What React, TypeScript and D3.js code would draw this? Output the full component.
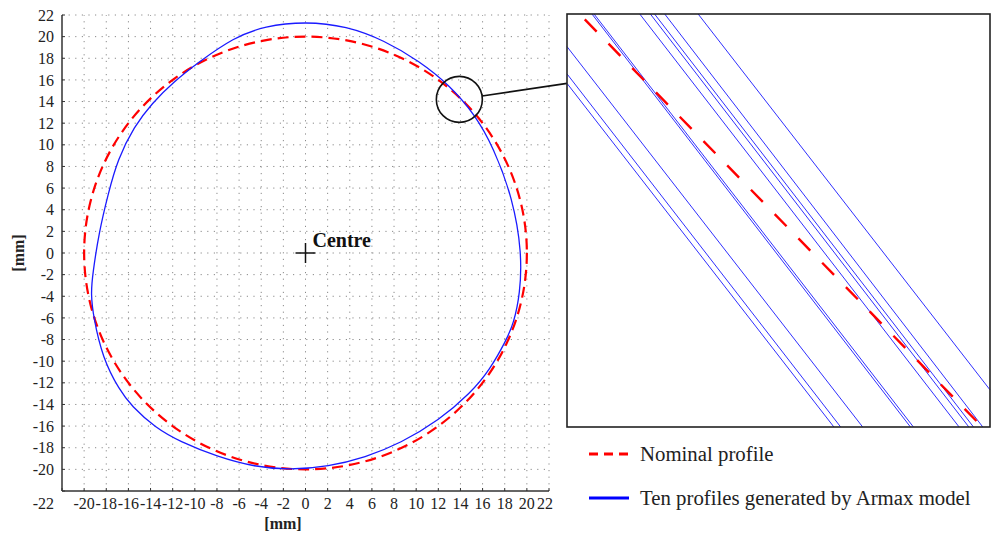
import * as d3 from 'd3';

// ticks on both axes, every 2 mm
const ticks = d3.range(-22, 23, 2);

// blue profile in polar form round the centre:
// angle in degrees (anticlockwise from +x), radius in mm
const profileAngles = [
  0, 15, 30, 40, 50, 60, 70, 80, 90, 100, 108, 119, 127, 135, 143, 153, 163, 174,
  186, 191, 197, 208, 217, 222, 230, 237, 247, 257, 266, 276, 286, 296, 308, 319,
  327, 336, 341, 349,
];
const profileRadii = [
  19.55, 19.4, 19.6, 19.95, 20.25, 20.5, 20.9, 21.3, 21.4, 21.3, 20.95, 20.1, 19.8, 19.6, 19.4, 19.05, 18.65, 18.75,
  19.35, 19.75, 20.05, 20.75, 21.05, 21.15, 21.1, 20.8, 20.45, 20.3, 20.1, 19.85, 19.65, 19.57, 19.62, 19.75,
  19.85, 19.85, 19.9, 19.75,
];

const nominalRadius = 20;
const zoomCentre: [number, number] = [13.9, 14.2];

// zoomed window: segments [u0, v0, u1, v1] in 0..1 box units
const zoomedProfiles = [
  [0.059, 0, 0.812, 1],
  [0.064, 0, 0.819, 1],
  [0.172, 0, 0.927, 1],
  [0.197, 0, 0.95, 1],
  [0.207, 0, 0.961, 1],
  [0.231, 0, 0.983, 1],
  [0.31, 0, 1, 0.91],
  [0, 0.079, 0.699, 1],
  [0, 0.145, 0.647, 1],
  [0, 0.168, 0.631, 1],
];
const zoomedNominal = [0.042, 0.013, 0.98, 0.998];

const legendLabels = ['Nominal profile', 'Ten profiles generated by Armax model'];

const serif = '"Liberation Serif", "Times New Roman", serif';

export default function App() {
  const width = 993;
  const height = 534;

  const x = d3.scaleLinear().domain([-22, 22]).range([62, 549]);
  const y = d3.scaleLinear().domain([-22, 22]).range([491, 15]);

  const ix = d3.scaleLinear().domain([0, 1]).range([567, 990]);
  const iy = d3.scaleLinear().domain([0, 1]).range([14, 427]);

  const profile = profileAngles.map((a, i) => ({ a, r: profileRadii[i] }));
  // radial line in mm, scaled to pixels by the group transform below
  const profileLine = d3.lineRadial<{ a: number; r: number }>()
    .angle(d => ((90 - d.a) * Math.PI) / 180)
    .radius(d => d.r)
    .curve(d3.curveBasisClosed);
  const kx = x(1) - x(0);
  const ky = y(0) - y(1);

  const cx = x(zoomCentre[0]);
  const cy = y(zoomCentre[1]);
  const r = 23;
  const endX = ix(0);
  const endY = iy(0.168);
  const len = Math.hypot(endX - cx, endY - cy);
  const startX = cx + (r * (endX - cx)) / len;
  const startY = cy + (r * (endY - cy)) / len;

  return (
    <svg width={width} height={height} style={{ position: 'absolute', left: 0, top: 0 }}>
      <rect width={width} height={height} fill="#fff" />

      {/* dotted grid */}
      <g stroke="#8a8a8a" strokeWidth={1} strokeDasharray="1.2,5.4">
        {ticks.filter(t => t > -22).map(t => (
          <line key={'gx' + t} x1={x(t)} x2={x(t)} y1={y(-22)} y2={y(22)} />
        ))}
        {ticks.filter(t => t > -22).map(t => (
          <line key={'gy' + t} x1={x(-22)} x2={x(22)} y1={y(t)} y2={y(t)} />
        ))}
      </g>

      {/* axes */}
      <g stroke="#333" strokeWidth={1.5}>
        <line x1={x(-22)} x2={x(-22)} y1={y(22)} y2={y(-22)} />
        <line x1={x(-22)} x2={x(22)} y1={y(-22)} y2={y(-22)} />
        {ticks.map(t => (
          <line key={'ty' + t} x1={x(-22)} x2={x(-22) + 3} y1={y(t)} y2={y(t)} strokeWidth={1} />
        ))}
        {ticks.map(t => (
          <line key={'tx' + t} x1={x(t)} x2={x(t)} y1={y(-22)} y2={y(-22) - 3} strokeWidth={1} />
        ))}
      </g>
      <g fontFamily={serif} fontSize={16} fill="#222">
        {ticks.map(t => (
          <text key={'ly' + t} x={x(-22) - 8} y={t === -22 ? 509 : y(t)} dy={t === -22 ? 0 : '0.35em'} textAnchor="end">
            {t}
          </text>
        ))}
        {ticks.filter(t => t > -22).map(t => (
          <text key={'lx' + t} x={t === 22 ? x(t) - 4 : x(t)} y={509} textAnchor="middle">
            {t}
          </text>
        ))}
      </g>
      <text x={283} y={529} textAnchor="middle" fontFamily={serif} fontWeight="bold" fontSize={16} fill="#222">[mm]</text>
      <text transform={`translate(24,${y(0)}) rotate(-90)`} textAnchor="middle" fontFamily={serif} fontWeight="bold" fontSize={16} fill="#222">[mm]</text>

      {/* profiles */}
      <ellipse
        cx={x(0)}
        cy={y(0)}
        rx={x(nominalRadius) - x(0)}
        ry={y(0) - y(nominalRadius)}
        fill="none"
        stroke="#ff0000"
        strokeWidth={2.2}
        strokeDasharray="11,6"
      />
      <g transform={`translate(${x(0)},${y(0)}) scale(${kx},${ky})`}>
        <path
          d={profileLine(profile) ?? ''}
          fill="none"
          stroke="#1a1aff"
          strokeWidth={1.3}
          vectorEffect="non-scaling-stroke"
        />
      </g>

      {/* centre */}
      <g stroke="#111" strokeWidth={1.5}>
        <line x1={x(0) - 10} x2={x(0) + 10} y1={y(0)} y2={y(0)} />
        <line x1={x(0)} x2={x(0)} y1={y(0) - 10} y2={y(0) + 10} />
      </g>
      <text x={x(0) + 7} y={y(0) - 6} fontFamily={serif} fontWeight="bold" fontSize={20} fill="#111">Centre</text>

      {/* magnifier */}
      <circle cx={cx} cy={cy} r={r} fill="none" stroke="#111" strokeWidth={1.6} />
      <line x1={startX} y1={startY} x2={endX} y2={endY} stroke="#111" strokeWidth={1.6} />

      {/* zoomed window */}
      <g>
        {zoomedProfiles.map((s, i) => (
          <line key={'zp' + i} x1={ix(s[0])} y1={iy(s[1])} x2={ix(s[2])} y2={iy(s[3])} stroke="#2f2fff" strokeWidth={1} />
        ))}
        <line
          x1={ix(zoomedNominal[0])}
          y1={iy(zoomedNominal[1])}
          x2={ix(zoomedNominal[2])}
          y2={iy(zoomedNominal[3])}
          stroke="#ff0000"
          strokeWidth={2.4}
          strokeDasharray="17,17"
        />
        <rect x={ix(0)} y={iy(0)} width={ix(1) - ix(0)} height={iy(1) - iy(0)} fill="none" stroke="#222" strokeWidth={1.6} />
      </g>

      {/* legend */}
      <g fontFamily={serif} fontSize={20.8} fill="#222">
        <line x1={589} x2={629} y1={454} y2={454} stroke="#ff0000" strokeWidth={3} strokeDasharray="9,6" />
        <text x={640} y={461}>{legendLabels[0]}</text>
        <line x1={589} x2={629} y1={498} y2={498} stroke="#0000ff" strokeWidth={3} />
        <text x={640} y={505}>{legendLabels[1]}</text>
      </g>
    </svg>
  );
}
